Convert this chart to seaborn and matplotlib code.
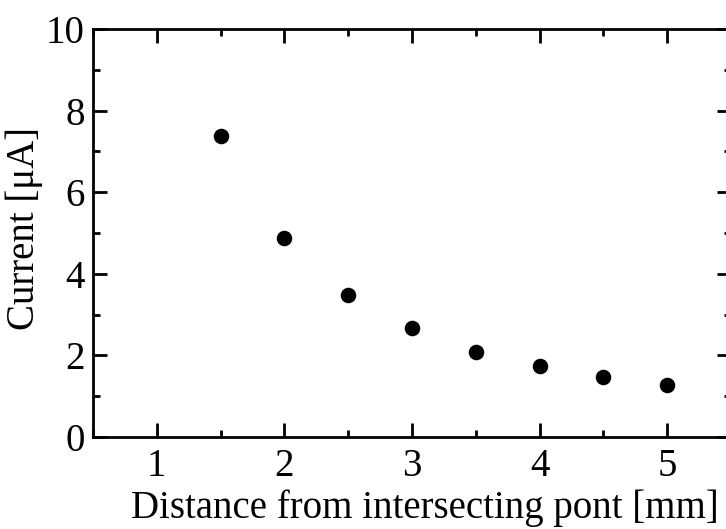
import matplotlib
matplotlib.use("Agg")
import matplotlib.pyplot as plt
from matplotlib.ticker import MultipleLocator
import seaborn as sns
import pandas as pd

# Measured current versus distance from the intersecting point
distance_mm = [1.5, 2.0, 2.5, 3.0, 3.5, 4.0, 4.5, 5.0]
current_uA = [7.38, 4.88, 3.48, 2.67, 2.08, 1.74, 1.47, 1.27]

x_ticks = [1, 2, 3, 4, 5]
y_ticks = [0, 2, 4, 6, 8, 10]

df = pd.DataFrame({"distance": distance_mm, "current": current_uA})

sns.set_theme(style="ticks")
plt.rcParams["font.family"] = ["Liberation Serif", "DejaVu Serif"]

fig = plt.figure(figsize=(7.26, 5.29), dpi=100)
ax = fig.add_axes([93 / 726, 1 - 437 / 529, (731 - 93) / 726, (437 - 29) / 529])

sns.scatterplot(data=df, x="distance", y="current", ax=ax, color="black",
                s=125, edgecolor="black", linewidth=0, legend=False, zorder=3)

ax.set_xlim(0.5, 5.5)
ax.set_ylim(0, 10)
ax.set_xticks(x_ticks)
ax.set_yticks(y_ticks)
ax.xaxis.set_minor_locator(MultipleLocator(0.5))
ax.yaxis.set_minor_locator(MultipleLocator(1))

for side in ["left", "right", "top", "bottom"]:
    ax.spines[side].set_visible(True)
    ax.spines[side].set_linewidth(2)
    ax.spines[side].set_color("black")

ax.tick_params(which="both", direction="in", top=True, right=True,
               color="black", width=2, labelsize=28, labelcolor="black")
ax.tick_params(which="major", length=10)
ax.tick_params(axis="x", which="major", pad=8)
ax.tick_params(axis="y", which="major", pad=6)
ax.tick_params(which="minor", length=5)

ax.set_xlabel("Distance from intersecting pont [mm]", fontsize=28, color="black")
ax.set_ylabel("Current [μA]", fontsize=28, color="black")
ax.xaxis.set_label_coords(0.52, -0.128)
ax.yaxis.set_label_coords(-0.078, 0.512)

fig.savefig("out.png", dpi=100)
